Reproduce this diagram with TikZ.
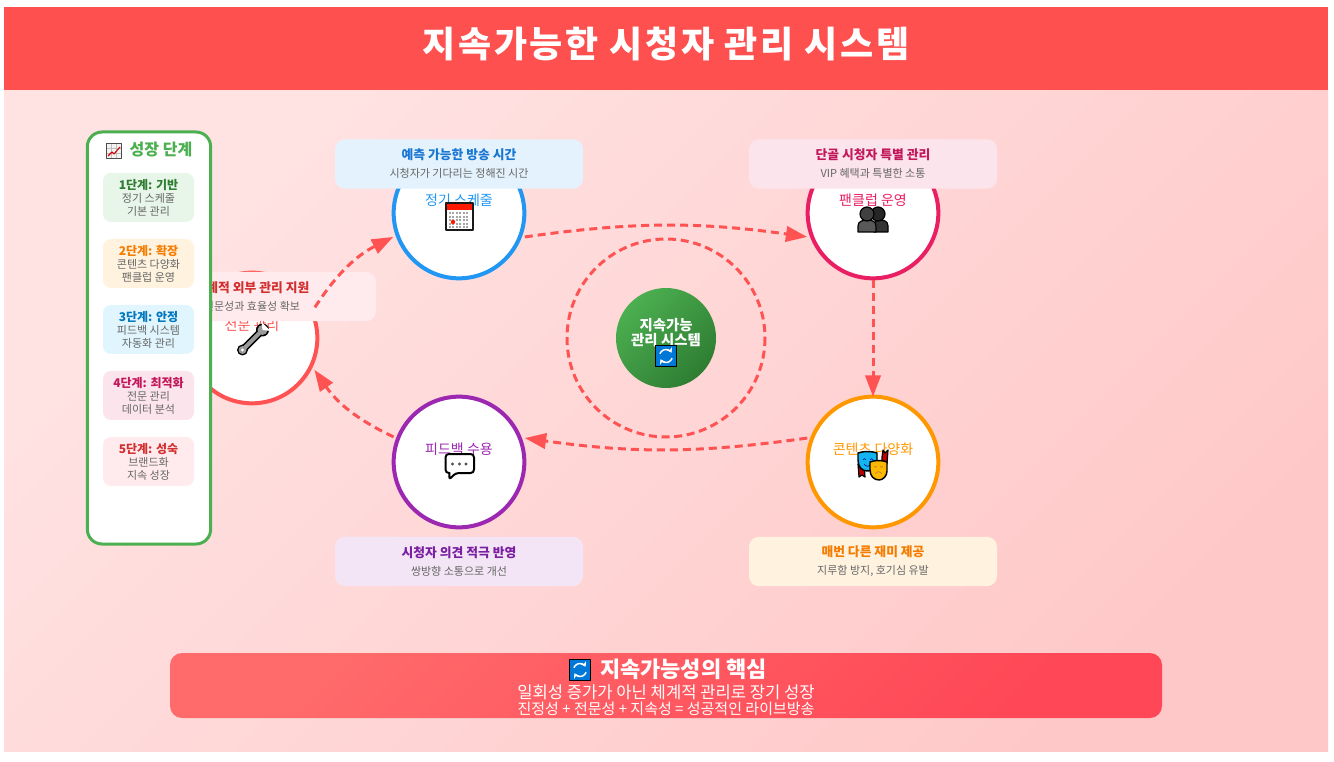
\documentclass[tikz,border=0pt]{standalone}
\usepackage{fontspec}
\setmainfont{Noto Sans CJK KR}
\usetikzlibrary{arrows.meta,shapes.geometric}
\definecolor{hdred}{HTML}{FF5050}
\definecolor{bgtl}{HTML}{FFE3E3}
\definecolor{bgbr}{HTML}{FFC8C8}
\definecolor{flowred}{HTML}{FF5252}
\definecolor{schedc}{HTML}{2196F3}
\definecolor{fanc}{HTML}{E91E63}
\definecolor{contc}{HTML}{FF9800}
\definecolor{feedc}{HTML}{9C27B0}
\definecolor{greenc}{HTML}{4CAF50}
\definecolor{greend}{HTML}{2E7D32}
\definecolor{schedf}{HTML}{E3F2FD}
\definecolor{fanf}{HTML}{FCE4EC}
\definecolor{contf}{HTML}{FFF3E0}
\definecolor{feedf}{HTML}{F3E5F5}
\definecolor{expf}{HTML}{FFEBEE}
\definecolor{greenf}{HTML}{E8F5E9}
\definecolor{skyf}{HTML}{E1F5FE}
\definecolor{ttlblue}{HTML}{1976D2}
\definecolor{ttlpink}{HTML}{C2185B}
\definecolor{ttlorange}{HTML}{F57C00}
\definecolor{ttlpurple}{HTML}{7B1FA2}
\definecolor{ttlred}{HTML}{D32F2F}
\definecolor{ttlsky}{HTML}{0277BD}
\definecolor{subgrey}{HTML}{666666}
\definecolor{syncblue}{HTML}{0078D7}
\definecolor{footl}{HTML}{FF6B6B}
\definecolor{footr}{HTML}{FF4757}
\definecolor{maskblue}{HTML}{12B5F0}
\definecolor{maskyellow}{HTML}{FDB900}
\tikzset{
	stepcirc/.style={circle,draw,fill=white,line width=3pt,minimum size=98pt,inner sep=0pt,outer sep=3.5pt},
	steplabel/.style={font=\fontsize{10.5}{12}\selectfont,inner sep=0pt},
	callout/.style={rounded corners=7.5pt,minimum width=186pt,minimum height=37pt,inner sep=0pt,align=center,text=subgrey,font=\fontsize{8.25}{13.5}\selectfont},
	stagebox/.style={rounded corners=6pt,minimum width=68.25pt,minimum height=36.75pt,inner sep=0pt,align=center,text=subgrey,font=\fontsize{8.25}{9.75}\selectfont},
	flow/.style={flowred,line width=2.25pt,dash pattern=on 6pt off 3.75pt,->},
}
% small pictures, each one drawn round its own centre with y upwards
\newcommand\iconsync[1]{\begin{scope}[shift={#1},y=.75pt]
	\draw[fill=syncblue,line width=1.1pt] (-10.5,-10.5) rectangle (10.5,10.5);
	\draw[white,line width=1.1pt,-{Stealth[length=3.5pt,width=4.5pt]}] (160:6.5) arc (160:30:6.5);
	\draw[white,line width=1.1pt,-{Stealth[length=3.5pt,width=4.5pt]}] (-20:6.5) arc (-20:-150:6.5);
	\end{scope}}
\newcommand\iconcal[1]{\begin{scope}[shift={#1},y=.75pt]
	\fill[white] (-14,-14) rectangle (14,14);
	\fill[red!80!orange] (-13,13) rectangle (13,7);
	\foreach \i in {0,...,5} \foreach \j in {0,...,4}
	\fill[black!35] (-9+3.4*\i-1,4-3.6*\j-1) rectangle (-9+3.4*\i+1,4-3.6*\j+1);
	\fill[red!80!orange] (-6,-5) circle (2.2);
	\draw[line width=1.5pt,black!90] (-13.5,-13.5) rectangle (13.5,13.5);
	\end{scope}}
\newcommand\iconfans[1]{\begin{scope}[shift={#1},y=.75pt]
	\draw[fill=black!80,line width=.9pt] (1,-14) -- (15,-14) -- (15,-8) .. controls (15,-3) and (10,-2) .. (8,-2) -- (6,-2) .. controls (3,-2) and (1,-4) .. (1,-8) -- cycle;
	\draw[fill=black!85,line width=.9pt] (5,4) circle (7);
	\draw[fill=black!65,line width=.9pt] (-15,-14) -- (3,-14) -- (3,-8) .. controls (3,-3) and (-2,-2) .. (-5,-2) .. controls (-10,-2) and (-15,-3) .. (-15,-8) -- cycle;
	\draw[fill=black!75,line width=.9pt] (-6,4) circle (7);
	\end{scope}}
\newcommand\iconmasks[1]{\begin{scope}[shift={#1},y=.75pt]
	\draw[fill=red!75!black,line width=.9pt] (-15,2) -- (-9,2) -- (-8,-11) -- (-11,-9) -- (-14,-11) -- cycle;
	\draw[fill=red!75!black,line width=.9pt] (9,9) -- (10,16) -- (12,13) -- (15,16) -- (14,2) -- (9,2) -- cycle;
	\draw[fill=maskblue,line width=1.1pt] (-15,13) .. controls (-10,15) and (-1,15) .. (4,13) -- (4,3) .. controls (3,-3) and (-2,-5) .. (-6,-5) .. controls (-11,-5) and (-15,-1) .. (-15,6) -- cycle;
	\draw[blue!60!black,line width=.5pt] (-10,6) arc (180:0:1.5) (-3,6) arc (180:0:1.5) (-9,2) .. controls (-7,-1) and (-4,-1) .. (-2,2);
	\draw[fill=maskyellow,line width=1.1pt] (-3,4) .. controls (2,6) and (9,6) .. (14,4) -- (14,-5) .. controls (14,-10) and (10,-14) .. (6,-14) .. controls (1,-14) and (-3,-10) .. (-3,-4) -- cycle;
	\draw[brown,line width=.5pt] (1,0) arc (180:360:1.5) (7,0) arc (180:360:1.5) (2,-8) .. controls (4,-5) and (7,-5) .. (9,-8);
	\end{scope}}
\newcommand\iconchat[1]{\begin{scope}[shift={#1},y=.75pt]
	\draw[fill=white,line width=1.5pt,rounded corners=2.5pt] (-14,13) -- (14.5,13) -- (14.5,-6) -- (-4,-6) -- (-10.5,-13) [sharp corners] -- (-10,-6) [rounded corners=2.5pt] -- (-14,-6) -- cycle;
	\foreach \i in {-7,0,6.5} \fill[black!70] (\i,3) circle (1.7);
	\end{scope}}
\newcommand\iconwrench[1]{\begin{scope}[shift={#1},y=.75pt]
	\draw[line width=5.5pt,line cap=round] (-10,-10) -- (9,9);
	\fill (-10,-10) circle (5.5) (10,10) circle (6.5);
	\draw[black!40,line width=3pt] (-10,-10) -- (9,9);
	\fill[black!40] (-10,-10) circle (4) (10,10) circle (5);
	\fill[white] (-10,-10) circle (1.6);
	\fill[white] (10,10) -- (18,9) -- (9,18) -- cycle;
	\end{scope}}
\newcommand\iconchart[1]{\begin{scope}[shift={#1},y=.75pt]
	\fill[black!5] (-7.5,-7.5) rectangle (7.5,7.5);
	\draw[black!25,line width=.3pt] (-7.5,-2.5) -- (7.5,-2.5) (-7.5,2.5) -- (7.5,2.5) (-2.5,-7.5) -- (-2.5,7.5) (2.5,-7.5) -- (2.5,7.5);
	\draw[red!80!black,line width=.8pt] (-6,-5) -- (-2,-1) -- (0,-3) -- (6,4);
	\draw[black!70,line width=1pt] (-7.5,-7.5) rectangle (7.5,7.5);
	\end{scope}}
\begin{document}
\begin{tikzpicture}[x=.75pt,y=-.75pt,>={Triangle[length=16pt,width=11.5pt]},line join=round]
	\useasboundingbox (0,0) rectangle (1334,762);
	\fill[white] (0,0) rectangle (1334,762);
	\shade[left color=bgtl,right color=bgbr,shading angle=45] (4,90) rectangle (1328,751);
	\fill[hdred] (4,7) rectangle (1328,90);
	\node[text=white,inner sep=0pt,font=\fontsize{27}{30}\bfseries\selectfont\addfontfeature{LetterSpace=7.2}] (title) at (666,44) {지속가능한 시청자 관리 시스템};
	% centre
	\draw[flowred,line width=2.25pt,dash pattern=on 6pt off 3.5pt] (666,338) circle (99);
	\node[circle,minimum size=75pt,inner sep=0pt,left color=greenc,right color=greend,shading angle=45] (core) at (666,338) {};
	\node[text=white,align=center,inner sep=0pt,font=\fontsize{10.8}{11.25}\bfseries\selectfont] (corelabel) at (666,333) {지속가능\\관리 시스템};
	\iconsync{(666,356)}
	% steps round the centre
	\foreach \nm/\x/\y/\c/\txt in {sched/459/213/schedc/정기 스케줄,fan/873/213/fanc/팬클럽 운영,cont/873/462/contc/콘텐츠 다양화,feed/459/462/feedc/피드백 수용,expert/252/338/flowred/전문 관리}
	{\node[stepcirc,draw=\c] (\nm) at (\x,\y) {};
	\node[steplabel,text=\c] (\nm label) at (\x,\y-13) {\txt};
	}
	\iconcal{(459,217)}
	\iconfans{(873,218)}
	\iconmasks{(873,466)}
	\iconchat{(459.5,467)}
	\iconwrench{(252.5,340)}
	% notes beside the steps
	\foreach \nm/\x/\y/\f/\t/\ttl/\sub in {schednote/459/164/schedf/ttlblue/예측 가능한 방송 시간/시청자가 기다리는 정해진 시간,fannote/873/164/fanf/ttlpink/단골 시청자 특별 관리/VIP 혜택과 특별한 소통,contnote/873/561.5/contf/ttlorange/매번 다른 재미 제공/{지루함 방지, 호기심 유발},feednote/459/561.5/feedf/ttlpurple/시청자 의견 적극 반영/쌍방향 소통으로 개선,expertnote/252/296.5/expf/ttlred/체계적 외부 관리 지원/전문성과 효율성 확보}
	\node[callout,fill=\f] (\nm) at (\x,\y) {{\fontsize{9.6}{13.5}\bfseries\selectfont\textcolor{\t}{\ttl}}\\\sub};
	% flow
	\draw[flow] (expert.26) to[bend left=15] (sched.200);
	\draw[flow] (sched.-20) to[bend left=8] (fan.200);
	\draw[flow,shorten <=-2.25pt,shorten >=-3.5pt] (fan.-90) -- (cont.90);
	\draw[flow] (cont.160) to[bend left=8] (feed.20);
	\draw[flow] (feed.159) to[bend left=15] (expert.-27);
	% growth panel
	\node[draw=greenc,fill=white,line width=2.25pt,rounded corners=11pt,minimum width=92.5pt,minimum height=309pt,inner sep=0pt] (panel) at (149,338) {};
	\iconchart{(114,151)}
	\node[text=greenc,inner sep=0pt,font=\fontsize{12}{14}\bfseries\selectfont] (paneltitle) at (161,150) {성장 단계};
	\foreach \nm/\y/\f/\t/\ttl/\la/\lb in {1/197.5/greenf/greend/1단계: 기반/정기 스케줄/기본 관리,2/263.5/contf/ttlorange/2단계: 확장/콘텐츠 다양화/팬클럽 운영,3/329.5/skyf/ttlsky/3단계: 안정/피드백 시스템/자동화 관리,4/395.5/fanf/ttlpink/4단계: 최적화/전문 관리/데이터 분석,5/461.5/expf/ttlred/5단계: 성숙/브랜드화/지속 성장}
	\node[stagebox,fill=\f] (stage\nm) at (148.5,\y) {{\fontsize{9}{9.75}\bfseries\selectfont\textcolor{\t}{\ttl}}\\\la\\\lb};
	% footer
	\node[left color=footl,right color=footr,shading angle=45,rounded corners=9pt,minimum width=744pt,minimum height=48.75pt,inner sep=0pt] (footer) at (666,685.5) {};
	\iconsync{(580,670)}
	\node[text=white,inner sep=0pt,font=\fontsize{16.5}{18}\bfseries\selectfont] (foottitle) at (683.5,669) {지속가능성의 핵심};
	\node[text=white,inner sep=0pt,font=\fontsize{12.45}{14}\selectfont] (footline) at (666,692) {일회성 증가가 아닌 체계적 관리로 장기 성장};
	\node[text=white,inner sep=0pt,font=\fontsize{11.25}{12}\selectfont] (footsub) at (666,709) {진정성 + 전문성 + 지속성 = 성공적인 라이브방송};
\end{tikzpicture}
\end{document}
